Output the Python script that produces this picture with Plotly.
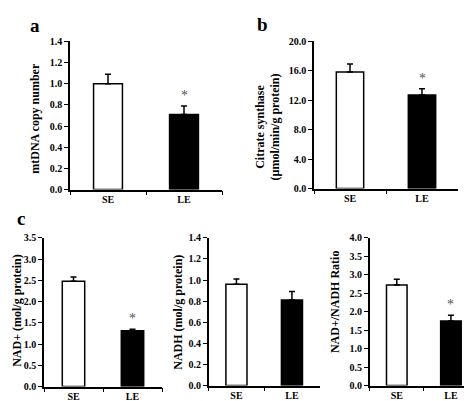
import plotly.graph_objects as go

categories = ["SE", "LE"]

a_values = [1.00, 0.71]
a_errors = [0.09, 0.08]
a_ticks = [0.0, 0.2, 0.4, 0.6, 0.8, 1.0, 1.2, 1.4]

b_values = [15.8, 12.7]
b_errors = [1.1, 0.85]
b_ticks = [0.0, 4.0, 8.0, 12.0, 16.0, 20.0]

c1_values = [2.48, 1.31]
c1_errors = [0.10, 0.04]
c1_ticks = [0.0, 0.5, 1.0, 1.5, 2.0, 2.5, 3.0, 3.5]

c2_values = [0.96, 0.81]
c2_errors = [0.05, 0.08]
c2_ticks = [0.0, 0.2, 0.4, 0.6, 0.8, 1.0, 1.2, 1.4]

c3_values = [2.72, 1.75]
c3_errors = [0.16, 0.15]
c3_ticks = [0.0, 0.5, 1.0, 1.5, 2.0, 2.5, 3.0, 3.5, 4.0]

titles = ["mtDNA copy number",
          "Citrate synthase<br>(µmol/min/g protein)",
          "NAD+ (mol/g protein)",
          "NADH (mol/g protein)",
          "NAD+/NADH Ratio"]
significant = [True, True, True, False, True]

W, H = 472, 401
FONT = "Liberation Serif, Times New Roman, serif"

panels = [
    dict(vals=a_values, errs=a_errors, ticks=a_ticks, fmt=".1f", x=(62, 214), y=(28.3, 181), tx=27, ty=108),
    dict(vals=b_values, errs=b_errors, ticks=b_ticks, fmt=".1f", x=(306, 450), y=(28, 180), tx=260, ty=117),
    dict(vals=c1_values, errs=c1_errors, ticks=c1_ticks, fmt=".1f", x=(36, 154), y=(230.7, 384), tx=9, ty=306),
    dict(vals=c2_values, errs=c2_errors, ticks=c2_ticks, fmt=".1f", x=(200.7, 311.7), y=(230.7, 383), tx=170, ty=308),
    dict(vals=c3_values, errs=c3_errors, ticks=c3_ticks, fmt=".1f", x=(361.7, 470), y=(230.7, 383), tx=327, ty=297),
]

tickfont = dict(family=FONT, size=10, color="black", weight="bold")

fig = go.Figure()
annotations = []
layout = {}
for i, p in enumerate(panels):
    n = "" if i == 0 else str(i + 1)
    fig.add_trace(go.Bar(
        x=categories, y=p["vals"],
        marker=dict(color=["white", "black"], line=dict(color="black", width=1.5)),
        width=0.38,
        error_y=dict(type="data", array=p["errs"], arrayminus=[0, 0], symmetric=False,
                     color="black", thickness=1.5, width=3),
        xaxis="x" + n, yaxis="y" + n, showlegend=False, hoverinfo="skip",
    ))
    layout["xaxis" + n] = dict(
        domain=[p["x"][0] / W, p["x"][1] / W], anchor="y" + n,
        showline=True, linecolor="black", linewidth=1.5,
        ticks="outside", tickson="boundaries", ticklen=4, tickwidth=1.2, tickcolor="black",
        showgrid=False, zeroline=False, tickfont=tickfont,
    )
    layout["yaxis" + n] = dict(
        domain=[1 - p["y"][1] / H, 1 - p["y"][0] / H], anchor="x" + n,
        range=[0, p["ticks"][-1]], tickvals=p["ticks"], tickformat=p["fmt"],
        showline=True, linecolor="black", linewidth=1.5,
        ticks="outside", ticklen=4, tickwidth=1.2, tickcolor="black",
        showgrid=False, zeroline=False, tickfont=tickfont,
    )
    annotations.append(dict(
        text=titles[i], x=p["tx"] / W, y=1 - p["ty"] / H,
        xref="paper", yref="paper", textangle=-90, showarrow=False,
        xanchor="center", yanchor="middle",
        font=dict(family=FONT, size=12, color="black", weight="bold"),
    ))
    if significant[i]:
        annotations.append(dict(
            text="*", x="LE", y=p["vals"][1] + p["errs"][1],
            xref="x" + n, yref="y" + n, showarrow=False,
            yanchor="bottom", yshift=1,
            font=dict(family=FONT, size=14, color="#555"),
        ))

for letter, lx, ly in [("a", 27, 12), ("b", 254, 11), ("c", 13, 211)]:
    annotations.append(dict(
        text=letter, x=lx / W, y=1 - ly / H, xref="paper", yref="paper",
        showarrow=False, xanchor="center", yanchor="middle",
        font=dict(family=FONT, size=19, color="black", weight="bold"),
    ))

fig.update_layout(
    width=W, height=H, margin=dict(l=0, r=0, t=0, b=0),
    paper_bgcolor="white", plot_bgcolor="white",
    annotations=annotations, bargap=0.6, **layout,
)

fig.write_html("out.html")
